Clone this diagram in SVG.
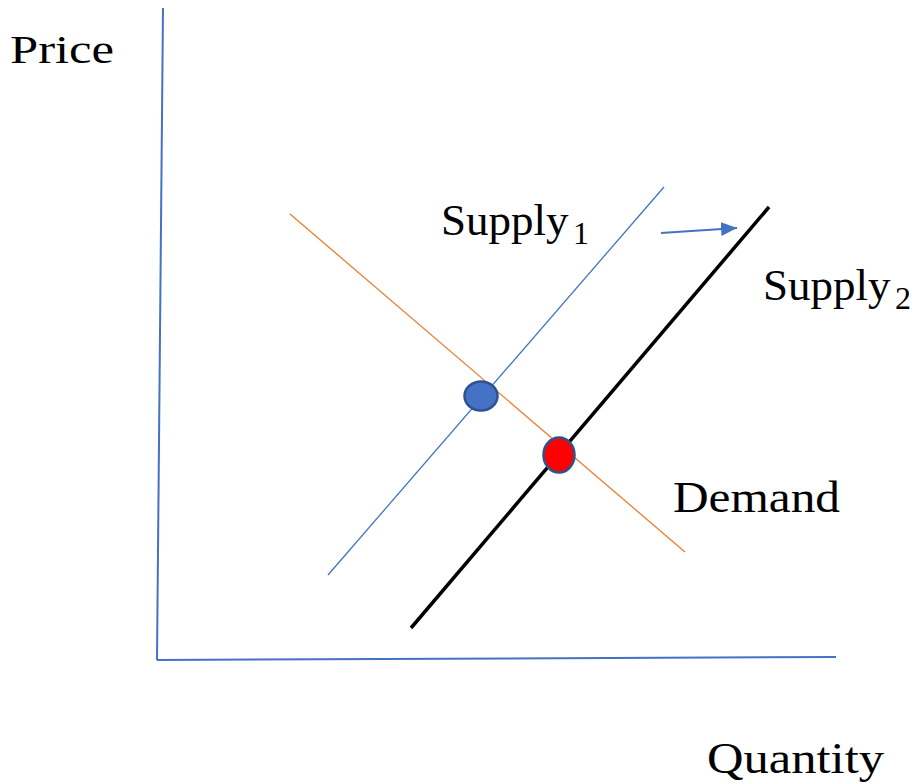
<svg xmlns="http://www.w3.org/2000/svg" width="920" height="784" viewBox="0 0 920 784">
<style>
.t{font-family:"Liberation Serif","DejaVu Serif",serif;fill:#000}
.ax{stroke:#4472C4;stroke-width:2;fill:none}
</style>
<defs>
<marker id="ah2" viewBox="0 0 16 14" refX="16" refY="7" markerWidth="16" markerHeight="14" orient="auto" markerUnits="userSpaceOnUse">
<path d="M0,0 L16,7 L0,14 Z" fill="#4472C4"/>
</marker>
</defs>
<rect width="920" height="784" fill="#fff"/>
<g id="connectors">
<line id="y-axis" class="ax" x1="163" y1="8" x2="157" y2="660"/>
<line id="x-axis" class="ax" x1="157" y1="660" x2="836" y2="657"/>
<line id="supply1" x1="328" y1="575" x2="664" y2="187" stroke="#4472C4" stroke-width="1.3"/>
<line id="supply2" x1="411" y1="628" x2="769" y2="207" stroke="#000" stroke-width="3.5"/>
<line id="demand" x1="290" y1="214" x2="685" y2="552" stroke="#ED7D31" stroke-width="1.3"/>
<line id="shift" x1="661" y1="233" x2="737" y2="228" stroke="#4472C4" stroke-width="2" marker-end="url(#ah2)"/>
</g>
<g id="eq1"><ellipse cx="481" cy="396" rx="16.5" ry="14.5" fill="#4472C4" stroke="#2F528F" stroke-width="2.5"/></g>
<g id="eq2"><ellipse cx="559" cy="455" rx="15.5" ry="17.5" fill="#FF0000" stroke="#2F528F" stroke-width="2.5"/></g>
<g id="labels">
<text class="t" x="10" y="63" font-size="40" textLength="104" lengthAdjust="spacingAndGlyphs">Price</text>
<text class="t" x="441" y="235" font-size="45">Supply</text>
<text class="t" x="573" y="244" font-size="32">1</text>
<text class="t" x="763" y="300" font-size="45">Supply</text>
<text class="t" x="895" y="309" font-size="32">2</text>
<text class="t" x="673" y="512" font-size="45" textLength="167" lengthAdjust="spacingAndGlyphs">Demand</text>
<text class="t" x="707" y="773" font-size="45" textLength="177" lengthAdjust="spacingAndGlyphs">Quantity</text>
</g>
</svg>
